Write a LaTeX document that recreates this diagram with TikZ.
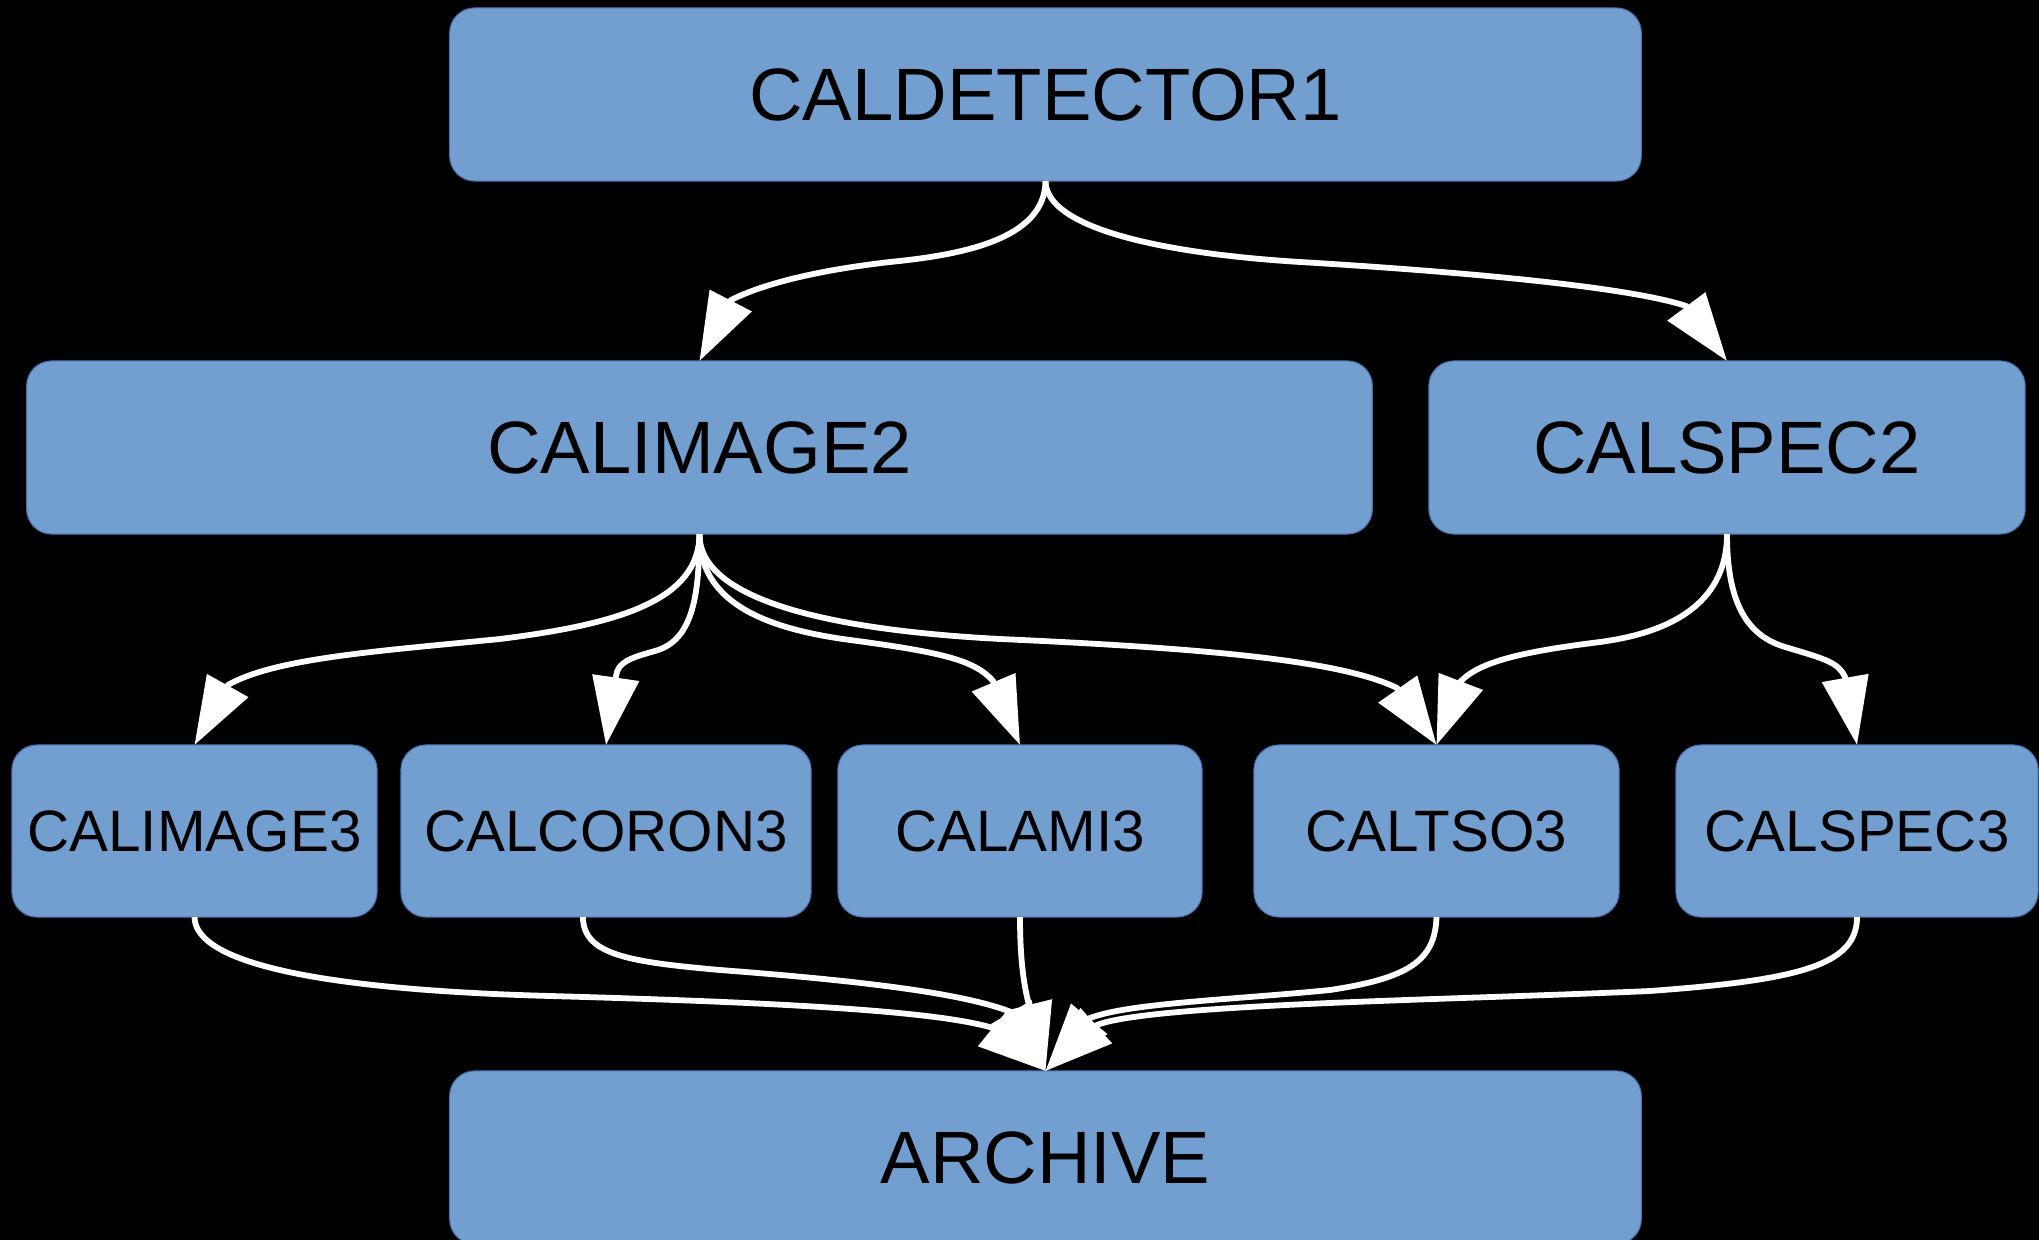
\documentclass[tikz,border=0pt]{standalone}
\usepackage{fontspec}
\setmainfont{Liberation Sans}
\usetikzlibrary{arrows.meta}
\definecolor{boxblue}{RGB}{114,159,207}
\definecolor{boxedge}{RGB}{70,115,175}
\begin{document}
\begin{tikzpicture}[x=0.01cm,y=-0.01cm,
  box/.style={rectangle, rounded corners=0.25cm, fill=boxblue, draw=boxedge, line width=0.3pt, inner sep=0pt, outer sep=0pt, text=black},
  bigbox/.style={box, minimum height=1.73cm, font=\fontsize{21.1}{25}\selectfont},
  smallbox/.style={box, minimum height=1.72cm, font=\fontsize{16.6}{20}\selectfont},
  flow/.style={draw=white, line width=0.058cm, -{Triangle[length=0.68cm,width=0.46cm]}}
]
\fill[black] (0,0) rectangle (2039,1240);
\useasboundingbox (0,0) rectangle (2039,1240);

% nodes
\node[bigbox, minimum width=11.91cm] (cd) at (1045.5,94.5) {CALDETECTOR1};
\node[bigbox, minimum width=13.45cm] (ci2) at (699.5,447.5) {CALIMAGE2};
\node[bigbox, minimum width=5.96cm] (cs2) at (1727,447.5) {CALSPEC2};
\node[smallbox, minimum width=3.65cm] (im3) at (194.5,831) {CALIMAGE3};
\node[smallbox, minimum width=4.10cm] (cor3) at (606,831) {CALCORON3};
\node[smallbox, minimum width=3.64cm] (ami3) at (1020,831) {CALAMI3};
\node[smallbox, minimum width=3.65cm] (tso3) at (1436.5,831) {CALTSO3};
\node[smallbox, minimum width=3.62cm] (spec3) at (1857,831) {CALSPEC3};
\node[bigbox, minimum width=11.91cm] (arc) at (1045.5,1157.5) {ARCHIVE};

% level 1 -> 2
\draw[flow] (cd.south) .. controls (1045,240) and (960,255) .. (890,262)
  .. controls (820,270) and (765,283) .. (731,300) -- (ci2.north);
\draw[flow] (cd.south) .. controls (1046,230) and (1170,254) .. (1300,262)
  .. controls (1450,271) and (1626,286) .. (1686,306) -- (cs2.north);

% level 2 -> 3
\draw[flow] (ci2.south) .. controls (699,600) and (620,624) .. (500,639)
  .. controls (380,651) and (275,658) .. (228,685) -- (im3.north);
\draw[flow] (ci2.south) .. controls (699,590) and (695,640) .. (655,651)
  .. controls (630,658) and (618,662) .. (616,676) -- (cor3.north);
\draw[flow] (ci2.south) .. controls (699,600) and (760,628) .. (850,640)
  .. controls (940,652) and (975,660) .. (993,681) -- (ami3.north);
\draw[flow] (ci2.south) .. controls (699,600) and (830,630) .. (1000,639)
  .. controls (1200,648) and (1340,660) .. (1397,688) -- (tso3.north);
\draw[flow] (cs2.south) .. controls (1727,590) and (1690,630) .. (1600,642)
  .. controls (1520,652) and (1480,662) .. (1461,681) -- (tso3.north);
\draw[flow] (cs2.south) .. controls (1727,600) and (1745,635) .. (1785,647)
  .. controls (1825,659) and (1838,662) .. (1845,677) -- (spec3.north);

% level 3 -> archive
\draw[flow] (im3.south) .. controls (195,965) and (330,990) .. (550,996)
  .. controls (800,1003) and (940,1012) .. (993,1028) -- (arc.north);
\draw[flow] ([xshift=-0.23cm]cor3.south) .. controls (583,955) and (630,962) .. (720,970)
  .. controls (850,980) and (960,992) .. (1011,1012) -- (arc.north);
\draw[flow] (ami3.south) .. controls (1020,960) and (1024,985) .. (1028,1001) -- (arc.north);
\draw[flow] (tso3.south) .. controls (1435,960) and (1410,978) .. (1330,990)
  .. controls (1230,1000) and (1130,1003) .. (1090,1018) -- (arc.north);
\draw[flow] (spec3.south) .. controls (1857,965) and (1800,980) .. (1650,991)
  .. controls (1450,1000) and (1150,1004) .. (1097,1025) -- (arc.north);
\end{tikzpicture}
\end{document}
